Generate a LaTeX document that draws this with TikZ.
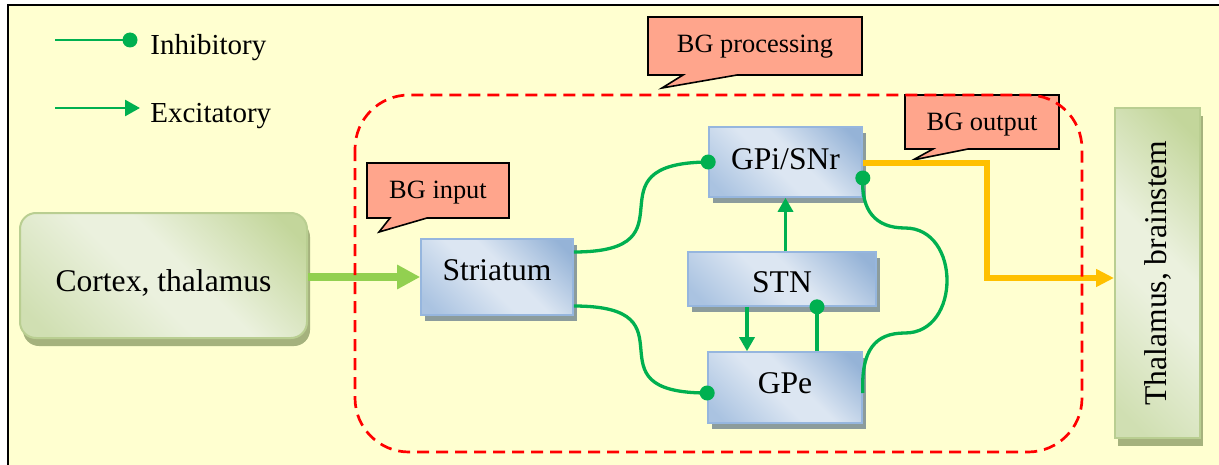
\documentclass[tikz,border=0pt]{standalone}
\usepackage{fontspec}
\setmainfont{Liberation Serif}
\usetikzlibrary{arrows.meta,shadows}
\definecolor{bgyellow}{RGB}{255,255,208}
\definecolor{bdark}{RGB}{149,179,215}
\definecolor{bmid}{RGB}{170,195,225}
\definecolor{blight}{RGB}{220,230,242}
\definecolor{bborder}{RGB}{150,182,222}
\definecolor{bshadow}{RGB}{140,156,156}
\definecolor{gdark}{RGB}{195,214,155}
\definecolor{gmid}{RGB}{208,223,178}
\definecolor{glight}{RGB}{235,241,222}
\definecolor{gborder}{RGB}{185,206,145}
\definecolor{gshadow}{RGB}{165,178,125}
\definecolor{salmon}{RGB}{255,165,140}
\definecolor{inhgreen}{RGB}{0,176,80}
\definecolor{lgreen}{RGB}{146,208,80}
\definecolor{outorange}{RGB}{255,192,0}
\definecolor{dashred}{RGB}{255,0,0}
\pgfdeclarehorizontalshading{bshade}{100bp}{color(0bp)=(bmid); color(20bp)=(bmid); color(45bp)=(blight); color(55bp)=(blight); color(80bp)=(bdark); color(100bp)=(bdark)}
\pgfdeclarehorizontalshading{gshade}{100bp}{color(0bp)=(gmid); color(20bp)=(gmid); color(45bp)=(glight); color(55bp)=(glight); color(80bp)=(gdark); color(100bp)=(gdark)}
\newcommand{\mynodefont}{\fontsize{15.8}{19}\selectfont}
\newcommand{\mylegfont}{\fontsize{14.5}{17}\selectfont}
\newcommand{\mycallfont}{\fontsize{13.2}{16}\selectfont}
\tikzset{
  bbox/.style={shading=bshade, shading angle=45, draw=bborder, line width=0.8pt,
    general shadow={fill=bshadow, shadow xshift=2pt, shadow yshift=-3pt},
    inner sep=0pt, font=\mynodefont, text height=10.4pt, text depth=0pt},
  gbox/.style={shading=gshade, shading angle=45, draw=gborder, line width=1pt,
    general shadow={fill=gshadow, shadow xshift=1.5pt, shadow yshift=-4pt},
    inner sep=0pt, font=\mynodefont},
  callout/.style={fill=salmon, draw=black, line width=0.8pt, line join=miter},
  calltext/.style={font=\mycallfont, anchor=base, inner sep=0pt},
  legtext/.style={font=\mylegfont, anchor=base west, inner sep=0pt},
  inh/.style={draw=inhgreen, line width=1.65pt},
  exc/.style={draw=inhgreen, line width=1.65pt, -{Triangle[length=7pt,width=7.5pt]}},
  dotend/.style={fill=inhgreen}
}
\begin{document}
\begin{tikzpicture}[x=0.5pt,y=-0.5pt]
\useasboundingbox (0,0) rectangle (1219,465);
\fill[white] (0,0) rectangle (1219,465);
\fill[bgyellow] (8,5) rectangle (1219,465);
\draw[line width=1.25pt] (8,465) -- (8,5) -- (1219,5);

% legend
\coordinate (li1) at (55,40);
\coordinate (li2) at (130,40);
\coordinate (le1) at (55,108);
\coordinate (le2) at (140,108);
\draw[draw=inhgreen, line width=1.35pt] (li1) -- (li2);
\fill[inhgreen] (li2) circle (3.75pt);
\draw[draw=inhgreen, line width=1.35pt, -{Triangle[length=7.5pt,width=8pt]}] (le1) -- (le2);
\node[legtext] (linh) at (150,55) {Inhibitory};
\node[legtext] (lexc) at (150,122) {Excitatory};

% callouts
\draw[callout] (648,17) -- (862,17) -- (862,75) -- (737,75) -- (662,88) -- (683,75) -- (648,75) -- cycle;
\node[calltext] (cproc) at (755,53) {BG processing};
\draw[callout] (367,163) -- (509,163) -- (509,218) -- (427,218) -- (379,232) -- (390,218) -- (367,218) -- cycle;
\node[calltext] (cin) at (438,198) {BG input};
\draw[callout] (905,95) -- (1059,95) -- (1059,149) -- (968,149) -- (913,160) -- (933,149) -- (905,149) -- cycle;
\node[calltext] (cout) at (982,130) {BG output};

% boxes
\node[gbox, rounded corners=8pt, minimum width=143.5pt, minimum height=62.5pt, text height=10.4pt, text depth=0pt] (ctx) at (163.5,275.5) {\raisebox{-3pt}{Cortex, thalamus}};
\node[bbox, minimum width=76pt, minimum height=38pt] (str) at (497,277) {\raisebox{3.7pt}{Striatum}};
\node[bbox, minimum width=76.5pt, minimum height=35pt] (gpi) at (785.5,162) {\raisebox{1.7pt}{GPi/SNr}};
\node[bbox, minimum width=94pt, minimum height=27pt] (stn) at (782,279) {\raisebox{-1.3pt}{STN}};
\node[bbox, minimum width=77pt, minimum height=35.5pt] (gpe) at (785,387.5) {\raisebox{2.4pt}{GPe}};
\node[gbox, minimum width=42.5pt, minimum height=165pt] (thal) at (1157.5,273) {\rotatebox{90}{Thalamus, brainstem}};

% input arrow
\draw[draw=lgreen, line width=4pt, -{Triangle[length=11.5pt,width=11.5pt]}] (ctx.east |- str.west) -- (str.west);

% striatum connections
\draw[inh] ([yshift=12.5pt]str.east) .. controls (700,252) and (582,163) .. (gpi.west);
\fill[dotend] (gpi.west) circle (3.75pt);
\draw[inh] ([yshift=-14.5pt]str.east) .. controls (700,306) and (582,393) .. ([yshift=-2.75pt]gpe.west);
\fill[dotend] ([yshift=-2.75pt]gpe.west) circle (3.75pt);

% STN connections
\draw[exc] (gpi.south |- stn.north) -- (gpi.south);
\draw[exc] ([xshift=-19pt]gpe.north |- stn.south) -- ([xshift=-19pt]gpe.north);
\draw[inh] ([xshift=16pt]gpe.north) -- ([xshift=16pt]gpe.north |- stn.south);
\fill[dotend] ([xshift=16pt]gpe.north |- stn.south) circle (3.75pt);

% GPe -> GPi
\draw[inh] ([yshift=-2.75pt]gpe.east) .. controls (861,350) and (875,333) .. (905,333)
  .. controls (961,333) and (961,228) .. (905,228)
  .. controls (875,228) and (861,210) .. ([yshift=-8pt]gpi.east);
\fill[dotend] ([yshift=-8pt]gpi.east) circle (3.75pt);

% output
\draw[draw=outorange, line width=3pt, line join=miter, -{Triangle[length=9pt,width=8.5pt]}] ([yshift=-0.5pt]gpi.east) -- ++(62pt,0pt) |- ([yshift=-2.5pt]thal.west);

% dashed region
\draw[dashred, line width=1.35pt, dash pattern=on 6pt off 3.5pt, rounded corners=27pt] (355,95) rectangle (1082,452);
\end{tikzpicture}
\end{document}
